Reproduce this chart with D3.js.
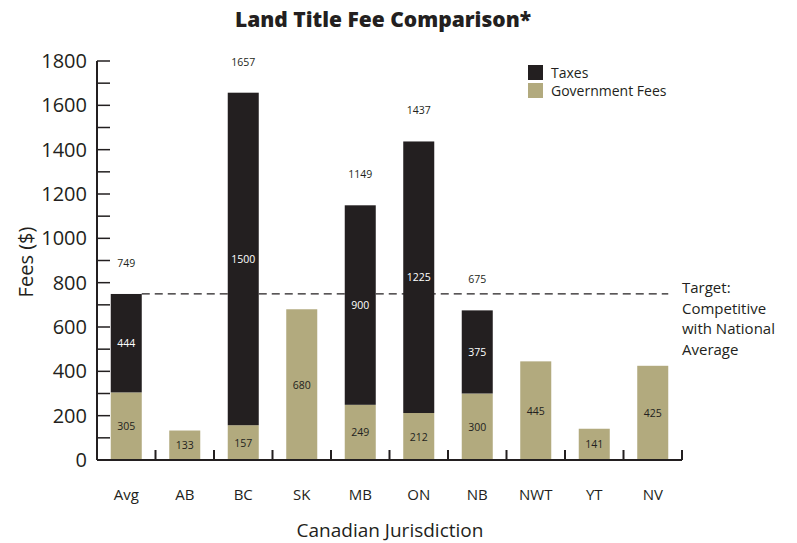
<!DOCTYPE html>
<html>
<head>
<meta charset="utf-8">
<script src="https://cdn.jsdelivr.net/npm/d3@7"></script>
<style>
  body { margin: 0; background: #fff; }
  text { font-family: "Open Sans", "Noto Sans", sans-serif; fill: #231f20; }
</style>
</head>
<body>
<script>
var categories = ["Avg", "AB", "BC", "SK", "MB", "ON", "NB", "NWT", "YT", "NV"];
var govFees = [305, 133, 157, 680, 249, 212, 300, 445, 141, 425];
var taxes = [444, 0, 1500, 0, 900, 1225, 375, 0, 0, 0];
var yTicks = [0, 200, 400, 600, 800, 1000, 1200, 1400, 1600, 1800];
var targetValue = 749;
var targetLines = ["Target:", "Competitive", "with National", "Average"];

var svgWidth = 797, svgHeight = 543;
var margin = {top: 61, left: 97},
    width = 585,
    height = 399;

var dark = "#231f20", tan = "#b2aa7e";

var svg = d3.select("body").append("svg").attr("width", svgWidth).attr("height", svgHeight);
var chartGroup = svg.append("g").attr("transform", `translate(${margin.left},${margin.top})`);

var data = categories.map(function(c, i) {
  return {cat: c, gov: govFees[i], tax: taxes[i], total: govFees[i] + taxes[i]};
});

var xScale = d3.scaleBand().domain(categories).range([0, width]).paddingInner(0.47).paddingOuter(0.235);
var yScale = d3.scaleLinear().domain([0, 1800]).range([height, 0]);

// dashed target line, behind bars
chartGroup.append("line")
    .attr("x1", xScale("Avg") + xScale.bandwidth())
    .attr("x2", xScale("NV") + xScale.bandwidth())
    .attr("y1", yScale(targetValue)).attr("y2", yScale(targetValue))
    .attr("stroke", dark).attr("stroke-width", 1.3)
    .attr("stroke-dasharray", "8,5");

// government fee bars
chartGroup.selectAll(".gov")
    .data(data)
  .enter().append("rect")
    .attr("class", "gov")
    .attr("x", function(d) { return xScale(d.cat); })
    .attr("width", xScale.bandwidth())
    .attr("y", function(d) { return yScale(d.gov); })
    .attr("height", function(d) { return yScale(0) - yScale(d.gov); })
    .attr("fill", tan);

// tax bars
chartGroup.selectAll(".tax")
    .data(data.filter(function(d) { return d.tax > 0; }))
  .enter().append("rect")
    .attr("class", "tax")
    .attr("x", function(d) { return xScale(d.cat); })
    .attr("width", xScale.bandwidth())
    .attr("y", function(d) { return yScale(d.total); })
    .attr("height", function(d) { return yScale(d.gov) - yScale(d.total); })
    .attr("fill", dark);

// segment labels
chartGroup.selectAll(".govLabel")
    .data(data)
  .enter().append("text")
    .attr("x", function(d) { return xScale(d.cat) + xScale.bandwidth() / 2; })
    .attr("y", function(d) { return (yScale(0) + yScale(d.gov)) / 2 + 4; })
    .attr("text-anchor", "middle")
    .attr("font-size", "10.5px")
    .text(function(d) { return d.gov; });

chartGroup.selectAll(".taxLabel")
    .data(data.filter(function(d) { return d.tax > 0; }))
  .enter().append("text")
    .attr("x", function(d) { return xScale(d.cat) + xScale.bandwidth() / 2; })
    .attr("y", function(d) { return (yScale(d.gov) + yScale(d.total)) / 2 + 4; })
    .attr("text-anchor", "middle")
    .attr("font-size", "10.5px")
    .style("fill", "#fff")
    .text(function(d) { return d.tax; });

chartGroup.selectAll(".totalLabel")
    .data(data.filter(function(d) { return d.tax > 0; }))
  .enter().append("text")
    .attr("x", function(d) { return xScale(d.cat) + xScale.bandwidth() / 2; })
    .attr("y", function(d) { return yScale(d.total) - 27; })
    .attr("text-anchor", "middle")
    .attr("font-size", "10.5px")
    .text(function(d) { return d.total; });

// y axis: ticks point inward, minor every 100
var yAxis = chartGroup.append("g").attr("class", "y axis");
yAxis.append("line").attr("x1", 0).attr("x2", 0).attr("y1", 0).attr("y2", height)
    .attr("stroke", dark).attr("stroke-width", 2);
yAxis.selectAll(".ytick")
    .data(d3.range(0, 1801, 100))
  .enter().append("line")
    .attr("x1", 0).attr("x2", 13)
    .attr("y1", function(d) { return yScale(d); }).attr("y2", function(d) { return yScale(d); })
    .attr("stroke", dark).attr("stroke-width", 1.5);
yAxis.selectAll(".ylabel")
    .data(yTicks)
  .enter().append("text")
    .attr("x", -10)
    .attr("y", function(d) { return yScale(d) + 7; })
    .attr("text-anchor", "end")
    .attr("font-size", "20px")
    .text(function(d) { return d; });

// x axis: ticks point up at band boundaries
var xAxis = chartGroup.append("g").attr("class", "x axis");
xAxis.append("line").attr("x1", 0).attr("x2", width).attr("y1", height).attr("y2", height)
    .attr("stroke", dark).attr("stroke-width", 2);
xAxis.selectAll(".xtick")
    .data(categories)
  .enter().append("line")
    .attr("x1", function(d) { return xScale(d) + xScale.bandwidth() + xScale.step() * 0.235; })
    .attr("x2", function(d) { return xScale(d) + xScale.bandwidth() + xScale.step() * 0.235; })
    .attr("y1", height).attr("y2", height - 10)
    .attr("stroke", dark).attr("stroke-width", 2);
xAxis.selectAll(".xlabel")
    .data(categories)
  .enter().append("text")
    .attr("x", function(d) { return xScale(d) + xScale.bandwidth() / 2; })
    .attr("y", height + 40)
    .attr("text-anchor", "middle")
    .attr("font-size", "15px")
    .text(function(d) { return d; });

// axis titles
svg.append("text")
    .attr("text-anchor", "middle")
    .attr("transform", "translate(33,262)rotate(-90)")
    .attr("font-size", "20px")
    .text("Fees ($)");

svg.append("text")
    .attr("text-anchor", "middle")
    .attr("x", 390).attr("y", 537)
    .attr("font-size", "19px")
    .text("Canadian Jurisdiction");

// title
svg.append("text")
    .attr("text-anchor", "middle")
    .attr("x", 383).attr("y", 27)
    .attr("font-size", "21px")
    .attr("font-weight", "800")
    .text("Land Title Fee Comparison*");

// legend
var legend = svg.append("g").attr("transform", "translate(528,65)");
[["Taxes", dark], ["Government Fees", tan]].forEach(function(item, i) {
  legend.append("rect").attr("x", 0).attr("y", i * 18).attr("width", 15).attr("height", 15).attr("fill", item[1]);
  legend.append("text").attr("x", 23).attr("y", i * 18 + 12.5).attr("font-size", "14px").text(item[0]);
});

// target annotation
svg.append("text")
    .attr("x", 682).attr("y", 293)
    .attr("font-size", "15px")
    .selectAll("tspan")
    .data(targetLines)
  .enter().append("tspan")
    .attr("x", 682)
    .attr("dy", function(d, i) { return i === 0 ? 0 : 20.5; })
    .text(function(d) { return d; });
</script>
</body>
</html>
